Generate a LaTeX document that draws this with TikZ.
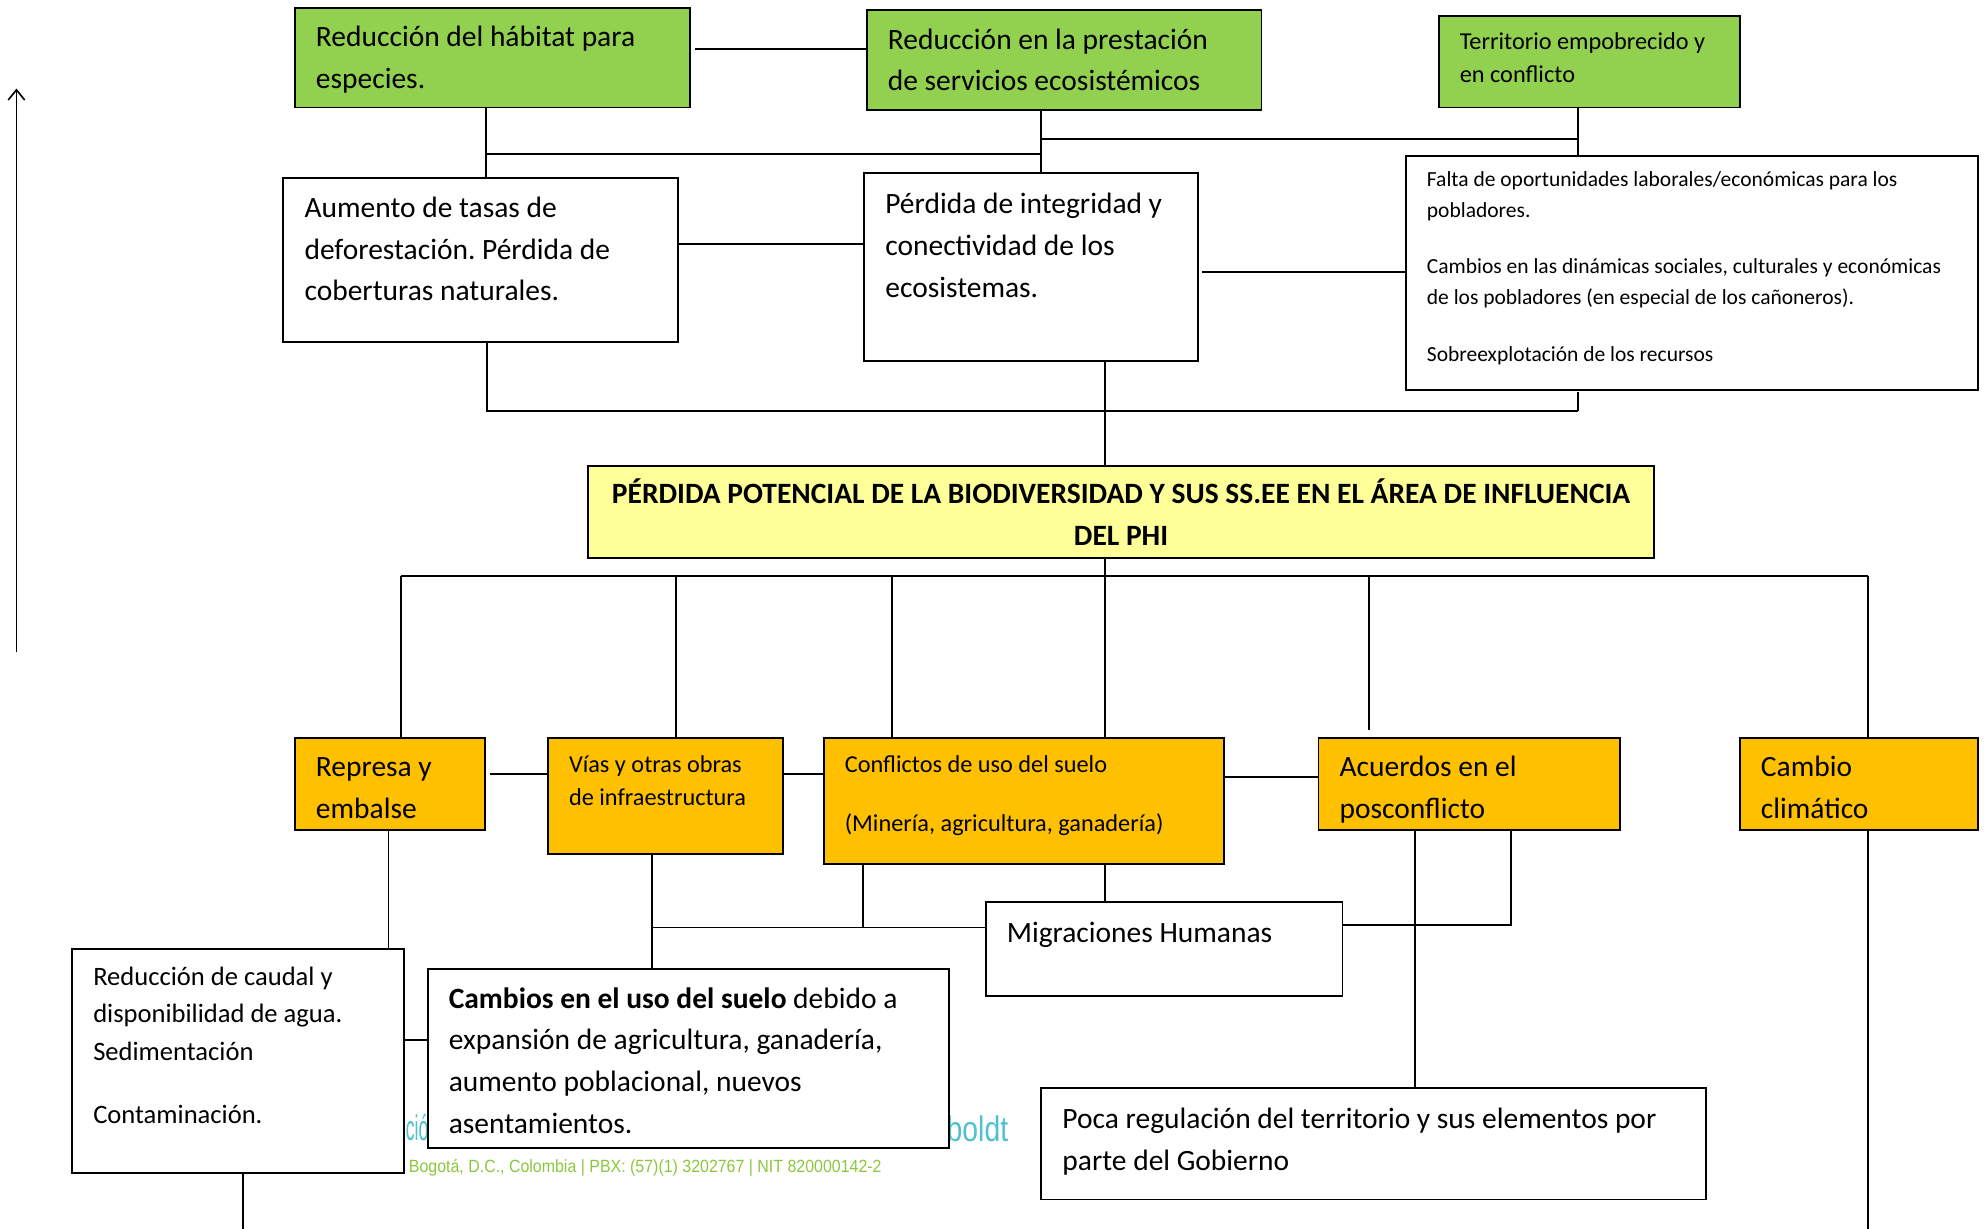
\documentclass[tikz,border=0pt]{standalone}
\usepackage{fontspec}
\usepackage{graphicx}
\setmainfont{Carlito}
\newfontfamily\footfont{Liberation Sans}
\frenchspacing
\usetikzlibrary{arrows.meta,backgrounds}
\definecolor{gfill}{HTML}{92D050}
\definecolor{ofill}{HTML}{FFC000}
\definecolor{yfill}{HTML}{FFFF99}
\definecolor{cyantext}{HTML}{4FC1CB}
\definecolor{greentext}{HTML}{8CC63F}
\tikzset{
 boxbase/.style={draw=black, line width=1.5pt, inner sep=0pt, outer sep=0pt},
 gbox/.style={boxbase, fill=gfill},
 obox/.style={boxbase, fill=ofill},
 ybox/.style={boxbase, fill=yfill},
 wbox/.style={boxbase, fill=white},
 txtL/.style={inner sep=0pt, align=left, font=\fontsize{23.3}{33}\selectfont},
 txtM/.style={inner sep=0pt, align=left, font=\fontsize{19.2}{26}\selectfont},
 txtS/.style={inner sep=0pt, align=left, font=\fontsize{17}{24}\selectfont},
 txtR/.style={inner sep=0pt, align=left, font=\fontsize{21}{29.5}\selectfont},
 conn/.style={line width=1.4pt, draw=black},
}
\newcommand{\bx}[9]{%
 \node[#6, anchor=north west, minimum width={#4-#2}, minimum height={#5-#3}] (#1) at (#2,#3) {};
 \node[#7, anchor=north west] (#1-t) at ({#2+16.5},#8) {\strut #9};
}
\begin{document}
\begin{tikzpicture}[x=1pt,y=-1pt]
\useasboundingbox (0,0) rectangle (1568,971);
% boxes
\bx{g1}{233}{6}{545}{85}{gbox}{txtL}{13.5}{Reducción del hábitat para\\especies.}
\bx{g2}{685}{8}{997}{87}{gbox}{txtL}{15.5}{Reducción en la prestación\\de servicios ecosistémicos}
\bx{g3}{1137}{13}{1375}{85}{gbox}{txtM}{21}{Territorio empobrecido y\\en conflicto}
\bx{a}{224}{141}{536}{270}{wbox}{txtL}{148.5}{Aumento de tasas de\\deforestación. Pérdida de\\coberturas naturales.}
\bx{p}{683}{137}{947}{285}{wbox}{txtL}{145.5}{Pérdida de integridad y\\conectividad de los\\ecosistemas.}
\bx{f}{1111}{123}{1563}{308}{wbox}{txtS}{130.5}{Falta de oportunidades laborales/económicas para los\\pobladores.\\[21pt]Cambios en las dinámicas sociales, culturales y económicas\\de los pobladores (en especial de los cañoneros).\\[21pt]Sobreexplotación de los recursos}
\node[ybox, anchor=north west, minimum width=842, minimum height=73] (t) at (465,368) {};
\node[inner sep=0pt, align=center, font=\bfseries\fontsize{23.3}{33}\selectfont, anchor=north] (t-t) at (886,375) {\strut PÉRDIDA POTENCIAL DE LA BIODIVERSIDAD Y SUS SS.EE EN EL ÁREA DE INFLUENCIA\\DEL PHI};
\bx{o1}{233}{583}{383}{656}{obox}{txtL}{590.5}{Represa y\\embalse}
\bx{o2}{433}{583}{619}{675}{obox}{txtM}{592}{Vías y otras obras\\de infraestructura}
\bx{o3}{651}{583}{967}{683}{obox}{txtM}{592}{Conflictos de uso del suelo\\[21pt](Minería, agricultura, ganadería)}
\bx{o4}{1042}{583}{1280}{656}{obox}{txtL}{590.5}{Acuerdos en el\\posconflicto}
\bx{o5}{1375}{583}{1563}{656}{obox}{txtL}{590.5}{Cambio\\climático}
\bx{m}{779}{713}{1061}{787}{wbox}{txtL}{721.5}{Migraciones Humanas}
\bx{r}{57}{750}{319}{927}{wbox}{txtR}{758}{Reducción de caudal y\\disponibilidad de agua.\\Sedimentación\\[20.5pt]Contaminación.}
\bx{c}{338}{766}{750}{907}{wbox}{txtL}{773.5}{\textbf{Cambios en el uso del suelo} debido a\\expansión de agricultura, ganadería,\\aumento poblacional, nuevos\\asentamientos.}
\bx{q}{823}{860}{1348}{948}{wbox}{txtL}{868.5}{Poca regulación del territorio y sus elementos por\\parte del Gobierno}
% coordinates
\coordinate (k39) at (549,39);
\coordinate (k122) at (384,122);
\coordinate (k110) at (823,110);
\coordinate (y193) at (0,193);
\coordinate (y215) at (0,215);
\coordinate (k325) at (385,325);
\coordinate (x1247) at (1247,0);
\coordinate (x873) at (873,0);
\coordinate (k455) at (317,455);
\coordinate (x534) at (534,0);
\coordinate (x705) at (705,0);
\coordinate (x1082) at (1082,0);
\coordinate (x1476) at (1476,0);
\coordinate (y612) at (0,612);
\coordinate (y614) at (0,614);
\coordinate (x307) at (307,0);
\coordinate (k733) at (515,733);
\coordinate (x682) at (682,0);
\coordinate (k731) at (1194,731);
\coordinate (x1118) at (1118,0);
\coordinate (y822) at (0,822);
\coordinate (x192) at (192,0);
\coordinate (ybot) at (0,971);
\coordinate (arrB) at (13,515);
\coordinate (arrT) at (13,70);
\begin{scope}[on background layer]
% footer remnants
\node[anchor=base west, inner sep=0pt, text=cyantext, font=\footfont\fontsize{28}{30}\selectfont] (fta) at (320.5,901) {\scalebox{0.5}[1]{ció}};
\node[anchor=base west, inner sep=0pt, text=cyantext, font=\footfont\fontsize{28}{30}\selectfont] (ftb) at (748,902) {\scalebox{0.8}[1]{boldt}};
\node[anchor=base west, inner sep=0pt, text=greentext, font=\footfont\fontsize{14}{16}\selectfont] (ftc) at (323,927) {\scalebox{0.9}[1]{Bogotá, D.C., Colombia | PBX: (57)(1) 3202767 | NIT 820000142-2}};
% connectors
\draw[conn] (k39) -- (k39 -| g2.west);
\draw[conn] (g1.south -| k122) -- (a.north -| k122);
\draw[conn] (k122) -- (k122 -| k110);
\draw[conn] (g2.south -| k110) -- (p.north -| k110);
\draw[conn] (k110) -- (k110 -| x1247);
\draw[conn] (g3.south -| x1247) -- (f.north -| x1247);
\draw[conn] (a.east |- y193) -- (p.west |- y193);
\draw[conn] ([xshift=3pt]p.east |- y215) -- ([xshift=4pt]f.west |- y215);
\draw[conn] (a.south -| k325) -- (k325) -- (k325 -| x1247);
\draw[conn] ([yshift=-2pt]f.south -| x1247) -- (k325 -| x1247);
\draw[conn] (p.south -| x873) -- (t.north -| x873);
\draw[conn] (t.south -| x873) -- (o3.north -| x873);
\draw[conn] (k455) -- (k455 -| x1476);
\draw[conn] (k455) -- (o1.north -| k455);
\draw[conn] (k455 -| x534) -- (o2.north -| x534);
\draw[conn] (k455 -| x705) -- (o3.north -| x705);
\draw[conn] (k455 -| x1082) -- ([yshift=6pt]o4.north -| x1082);
\draw[conn] (k455 -| x1476) -- (o5.north -| x1476);
\draw[conn] ([xshift=4pt]o1.east |- y612) -- (o2.west |- y612);
\draw[conn] (o2.east |- y612) -- (o3.west |- y612);
\draw[conn] (o3.east |- y614) -- (o4.west |- y614);
\draw[conn] (o1.south -| x307) -- (r.north -| x307);
\draw[conn] (o2.south -| k733) -- (c.north -| k733);
\draw[conn] (k733) -- (k733 -| m.west);
\draw[conn] (o3.south -| x682) -- (k733 -| x682);
\draw[conn] (o3.south -| x873) -- (m.north -| x873);
\draw[conn] (m.east |- k731) -- (k731) -- (o4.south -| k731);
\draw[conn] (o4.south -| x1118) -- (q.north -| x1118);
\draw[conn] (o5.south -| x1476) -- (ybot -| x1476);
\draw[conn] (r.east |- y822) -- (c.west |- y822);
\draw[conn] (r.south -| x192) -- (ybot -| x192);
\end{scope}
\draw[line width=1.3pt, -{Straight Barb[length=8pt,width=13pt]}] (arrB) -- (arrT);
\end{tikzpicture}
\end{document}
